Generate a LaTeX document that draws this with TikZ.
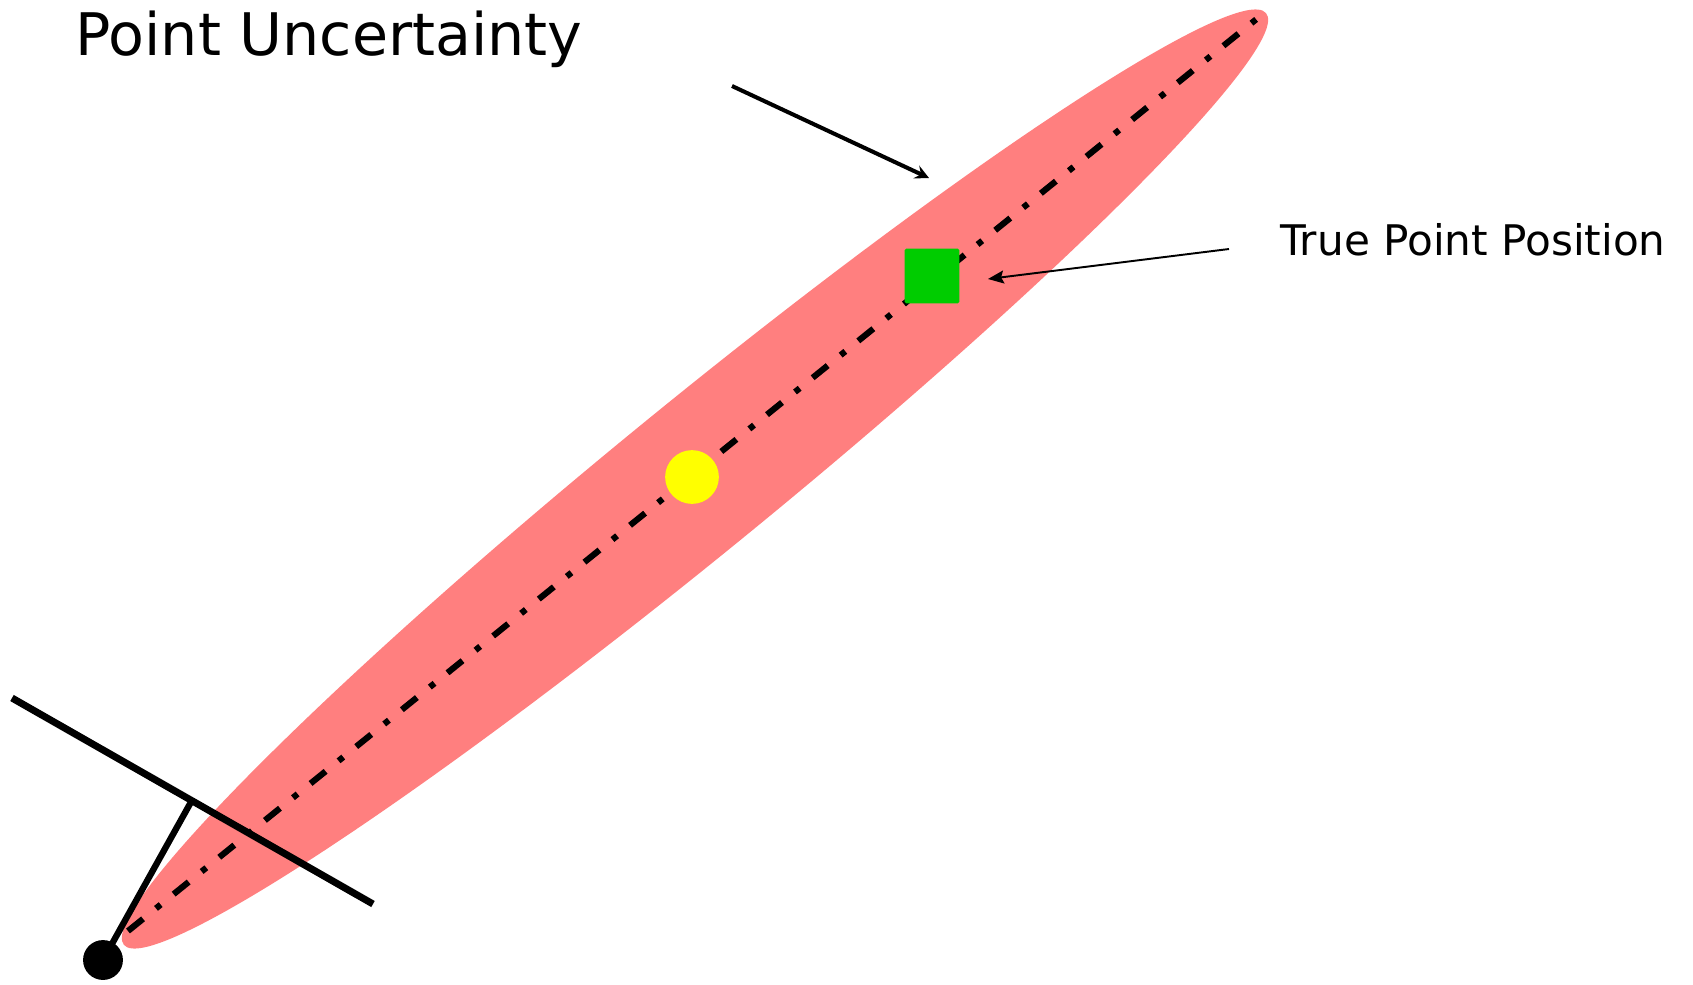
\documentclass[tikz,border=0pt]{standalone}
\usepackage{fontspec}
\setmainfont{DejaVu Sans}
\usepackage{tikz}
\usetikzlibrary{arrows.meta,positioning,calc}
\definecolor{uncpink}{HTML}{FF7F7F}
\definecolor{truegreen}{HTML}{00CC00}
\definecolor{estyellow}{HTML}{FFFF00}

\begin{document}
\begin{tikzpicture}[x=0.02cm,y=-0.02cm,
    raystyle/.style={line width=3.5pt,dash pattern=on 11pt off 9.5pt on 3.4pt off 9.5pt},
    leader/.style={line width=2.3pt,-{Stealth[length=8pt,width=8pt,inset=3pt]}},
    pointer/.style={line width=1.1pt,-{Stealth[length=9pt,width=7.4pt,inset=1.5pt]}}]
  \useasboundingbox (0,0) rectangle (1693,984);
  % Uncertainty region
  \coordinate (ucen) at (695,479);
  \fill[uncpink,rotate around={39.2:(ucen)}] (ucen) ellipse [x radius=737, y radius=76];
  % Ray from camera
  \coordinate (raystart) at (128,931);
  \coordinate (rayend) at (1264,13);
  \draw[raystyle] (raystart) -- (rayend);
  % Camera: centre, image plane, principal axis
  \node[circle,fill=black,inner sep=0pt,minimum size=22.7pt] (cam) at (103,960) {};
  \coordinate (planeA) at (12,698);
  \coordinate (planeB) at (373,904);
  \coordinate (pp) at (191,802);
  \draw[line width=4pt] (planeA) -- (planeB);
  \draw[line width=3.6pt] (cam.center) -- (pp);
  % Estimated and true point
  \node[circle,fill=estyellow,inner sep=0pt,minimum size=30.6pt] (estpt) at (692,477) {};
  \node[rectangle,fill=truegreen,rounded corners=1pt,inner sep=0pt,minimum size=31.2pt] (truept) at (932,276) {};
  % Labels
  \node[anchor=base west,inner sep=0pt,font=\fontsize{33.4}{40}\selectfont] (unclbl) at (75,55) {Point Uncertainty};
  \node[anchor=base west,inner sep=0pt,font=\fontsize{24}{29}\selectfont] (truelbl) at (1280,255) {True Point Position};
  % Arrows
  \coordinate (uncfrom) at (732,86);
  \coordinate (uncto) at (929,178);
  \draw[leader] (uncfrom) -- (uncto);
  \coordinate (truefrom) at (1229,249);
  \coordinate (trueto) at (988,279);
  \draw[pointer] (truefrom) -- (trueto);
\end{tikzpicture}
\end{document}
